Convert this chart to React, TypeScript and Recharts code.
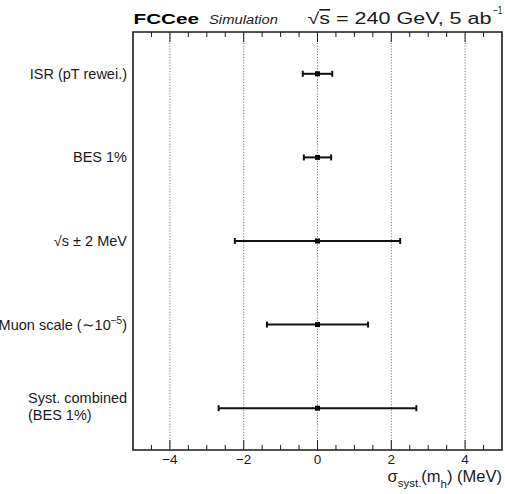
import React from 'react';
import { ScatterChart, Scatter, XAxis, YAxis, ErrorBar, ReferenceLine, ReferenceArea } from 'recharts';

const categories = ['ISR (pT rewei.)', 'BES 1%', '√s ± 2 MeV', 'Muon scale (∼10^{-5})', 'Syst. combined\n(BES 1%)'];
const centralValues = [0, 0, 0, 0, 0];
const errors = [0.4, 0.37, 2.24, 1.37, 2.68];
const xTicks = [-4.5, -4, -3.5, -3, -2.5, -2, -1.5, -1, -0.5, 0, 0.5, 1, 1.5, 2, 2.5, 3, 3.5, 4, 4.5];
const majorTicks = [-4, -2, 0, 2, 4];
const gridValues = [-4, -2, 0, 2, 4];
const yTicks = [0.5, 1.5, 2.5, 3.5, 4.5];

const data = categories.map((c, i) => ({ x: centralValues[i], y: yTicks[i], err: errors[i], name: c }));

const FONT = '"Liberation Sans", Arial, sans-serif';
const INK = '#1a1a1a';

const renderLabelLine = (s: string, key: string) => {
  const m = s.match(/^(.*)\^\{(.*)\}(.*)$/);
  if (!m) return <tspan key={key}>{s}</tspan>;
  return [
    <tspan key={key + 'a'}>{m[1]}</tspan>,
    <tspan key={key + 'b'} dy={-6} fontSize={10}>{m[2].replace('-', '−')}</tspan>,
    <tspan key={key + 'c'} dy={6}>{m[3]}</tspan>,
  ];
};

const YTick = (props: any) => {
  const { x, y, index } = props;
  const label = categories[index] ?? '';
  const lines = label.split('\n');
  if (lines.length === 1) {
    return (
      <text x={x - 6} y={y + 5} textAnchor="end" fontSize={14.5} fontFamily={FONT} fill={INK}>
        {renderLabelLine(lines[0], 'l0')}
      </text>
    );
  }
  return (
    <text x={x - 105} y={y - 5} textAnchor="start" fontSize={14.5} fontFamily={FONT} fill={INK}>
      {lines.map((l, i) => (
        <tspan key={i} x={x - 105} dy={i === 0 ? 0 : 16.5}>{l}</tspan>
      ))}
    </text>
  );
};

const fmt = (v: number) => (v < 0 ? '−' + Math.abs(v) : String(v));

const BottomTick = (props: any) => {
  const { x, y, payload } = props;
  const major = majorTicks.includes(payload.value);
  return (
    <g>
      <line x1={x} x2={x} y1={y} y2={y - (major ? 10 : 5)} stroke={INK} strokeWidth={1} />
      {major && (
        <text x={x} y={y + 14} textAnchor="middle" fontSize={13.5} fontFamily={FONT} fill={INK}>
          {fmt(payload.value)}
        </text>
      )}
    </g>
  );
};

const TopTick = (props: any) => {
  const { x, y, payload } = props;
  const major = majorTicks.includes(payload.value);
  return <line x1={x} x2={x} y1={y} y2={y + (major ? 10 : 5)} stroke={INK} strokeWidth={1} />;
};

const Marker = (props: any) => {
  const { cx, cy } = props;
  return <rect x={cx - 2.5} y={cy - 2.5} width={5} height={5} fill="#000" />;
};

export default function App() {
  return (
    <div style={{ position: 'absolute', left: 0, top: 0, width: 505, height: 494, overflow: 'hidden', background: '#fff' }}>
      <ScatterChart width={505} height={494} margin={{ top: 0, right: 3, bottom: 0, left: 0 }}>
        <XAxis
          xAxisId="b"
          type="number"
          dataKey="x"
          domain={[-5, 5]}
          ticks={xTicks}
          interval={0}
          orientation="bottom"
          height={44}
          axisLine={false}
          tickLine={false}
          tickSize={0}
          tickMargin={0}
          tick={BottomTick}
          allowDataOverflow
        />
        <XAxis
          xAxisId="t"
          type="number"
          dataKey="x"
          domain={[-5, 5]}
          ticks={xTicks}
          interval={0}
          orientation="top"
          height={32}
          axisLine={false}
          tickLine={false}
          tickSize={0}
          tickMargin={0}
          tick={TopTick}
          allowDataOverflow
        />
        <YAxis
          type="number"
          dataKey="y"
          domain={[0, 5]}
          reversed
          ticks={yTicks}
          interval={0}
          width={133}
          axisLine={false}
          tickLine={false}
          tickSize={0}
          tickMargin={0}
          tick={YTick}
          allowDataOverflow
        />
        {gridValues.map((g) => (
          <ReferenceLine key={g} xAxisId="b" x={g} stroke="#7a7a7a" strokeWidth={1} strokeDasharray="1.2 1.6" />
        ))}
        <ReferenceArea xAxisId="b" x1={-5} x2={5} y1={0} y2={5} fill="none" stroke={INK} strokeWidth={1.6} fillOpacity={0} />
        <Scatter xAxisId="b" data={data} dataKey="y" isAnimationActive={false} shape={Marker}>
          <ErrorBar dataKey="err" direction="x" width={3} stroke="#111" strokeWidth={2} isAnimationActive={false} />
        </Scatter>
      </ScatterChart>
      <svg
        width={505}
        height={494}
        style={{ position: 'absolute', left: 0, top: 0, pointerEvents: 'none' }}
        fontFamily={FONT}
      >
        <text x={133.5} y={24} fontSize={15.5} fontWeight="bold" fill="#000" textLength={65.5} lengthAdjust="spacingAndGlyphs">
          FCCee
        </text>
        <text x={209} y={24} fontSize={12} fontStyle="italic" fill={INK} textLength={69} lengthAdjust="spacingAndGlyphs">
          Simulation
        </text>
        <text x={307.5} y={24} fontSize={16} fill={INK} textLength={184} lengthAdjust="spacingAndGlyphs">
          √<tspan style={{ textDecoration: 'overline' }}>s</tspan> = 240 GeV, 5 ab
        </text>
        <text x={493} y={14} fontSize={11} fill={INK} textLength={9.5} lengthAdjust="spacingAndGlyphs">
          −1
        </text>
        <text x={502} y={482} textAnchor="end" fontSize={16.5} fill={INK}>
          σ<tspan dy={4.5} fontSize={11.5}>syst.</tspan>
          <tspan dy={-4.5}>(m</tspan>
          <tspan dy={5.5} fontSize={11.5}>h</tspan>
          <tspan dy={-5.5}>) (MeV)</tspan>
        </text>
      </svg>
    </div>
  );
}
